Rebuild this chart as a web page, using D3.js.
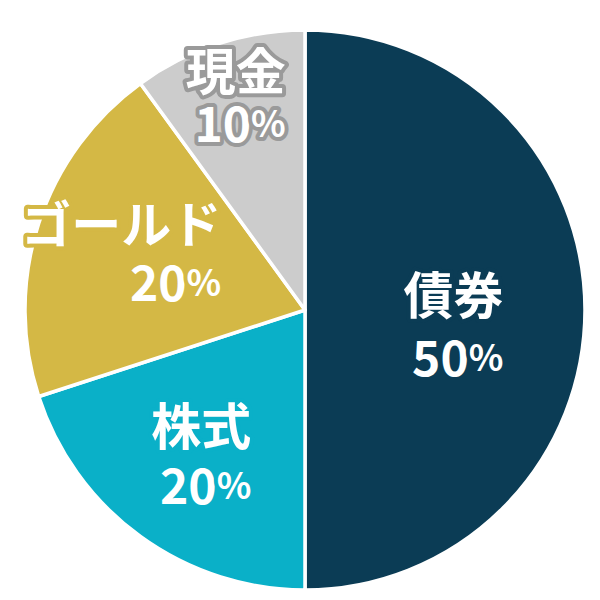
<!DOCTYPE html>
<html>
<head>
<meta charset="utf-8">
<style>
  body {
    margin: 0;
    background-color: #ffffff;
  }

  .label {
    font-family: "Noto Sans CJK JP", "Noto Sans", sans-serif;
    font-weight: 700;
    fill: #ffffff;
    paint-order: stroke;
    stroke-linejoin: round;
  }
</style>
  <script src="https://d3js.org/d3.v7.min.js"></script>
</head>
<body>
<script>
// asset allocation pie
const categories = ['債券', '株式', 'ゴールド', '現金'];
const values = [50, 20, 20, 10];
const colors = ['#0b3c55', '#0ab0c8', '#d4b845', '#cccccc'];
const outlineColors = ['#0b3c55', '#0ab0c8', '#d4b845', '#9a9a9a'];

const width = 600;
const height = 600;
const center = { x: 305, y: 310 };
const radius = 280;

// label placement: distance from centre (fraction of radius),
// extra vertical nudge and gap between the two lines
const labelRadius = [0.53, 0.63, 0.69, 0.8];
const labelNudge = [13, 0, 0, -3];
const lineGap = [63, 60, 59, 53];

const svg = d3.select('body')
  .append('svg')
  .attr('width', width)
  .attr('height', height);

const data = categories.map((name, i) => ({ name, value: values[i], i }));

const pie = d3.pie()
  .value(d => d.value)
  .sort(null);

const arcs = pie(data);

const arc = d3.arc()
  .innerRadius(0)
  .outerRadius(radius);

const g = svg.append('g')
  .attr('transform', `translate(${center.x},${center.y})`);

g.selectAll('path')
  .data(arcs)
  .join('path')
  .attr('d', arc)
  .attr('fill', d => colors[d.data.i])
  .attr('stroke', '#ffffff')
  .attr('stroke-width', 3.5)
  .attr('stroke-linejoin', 'round');

const labels = g.selectAll('g.lab')
  .data(arcs)
  .join('g')
  .attr('class', 'lab');

labels.each(function(d) {
  const lab = d3.select(this);
  const i = d.data.i;
  const r = radius * labelRadius[i];
  const c = d3.arc().innerRadius(r).outerRadius(r).centroid(d);
  const half = lineGap[i] / 2;

  const block = lab.append('g');

  block.append('text')
    .attr('class', 'label')
    .attr('text-anchor', 'end')
    .attr('dominant-baseline', 'central')
    .attr('y', -half)
    .attr('font-size', 50)
    .attr('stroke', outlineColors[i])
    .attr('stroke-width', 8)
    .text(d.data.name);

  const pct = block.append('text')
    .attr('class', 'label')
    .attr('text-anchor', 'end')
    .attr('dominant-baseline', 'central')
    .attr('y', half)
    .attr('font-size', 48)
    .attr('stroke', outlineColors[i])
    .attr('stroke-width', 8);

  pct.append('tspan').text(d.data.value);
  pct.append('tspan').attr('font-size', 36).text('%');

  // centre the right-aligned block on the label point
  const box = block.node().getBBox();
  const dx = c[0] - (box.x + box.width / 2);
  const dy = c[1] + labelNudge[i] - (box.y + box.height / 2);
  block.attr('transform', `translate(${dx},${dy})`);
});
</script>
</body>
</html>
